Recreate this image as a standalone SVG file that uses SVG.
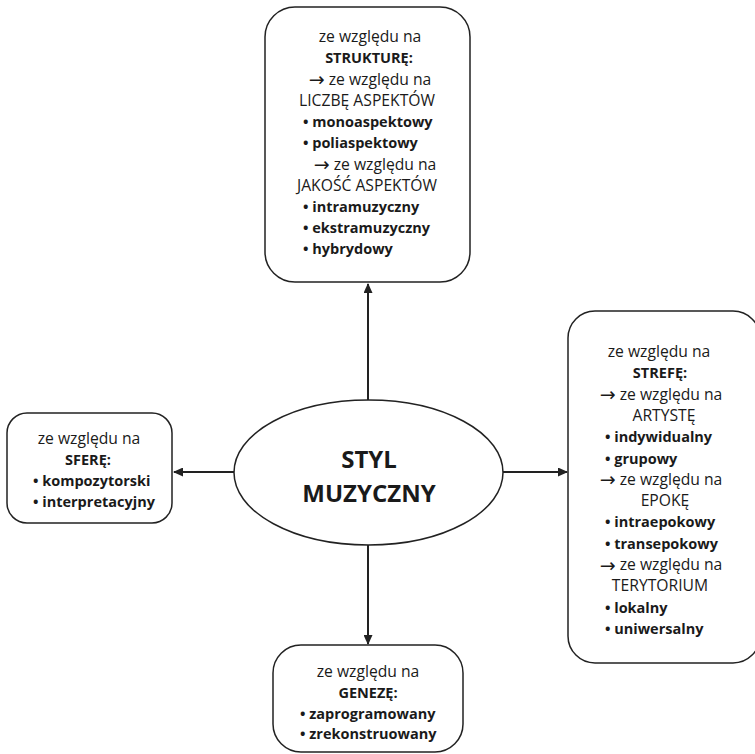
<svg xmlns="http://www.w3.org/2000/svg" width="755" height="754" viewBox="0 0 755 754">
<style>
.box{fill:#fff;stroke:#222;stroke-width:1.5}
.ln{stroke:#222;stroke-width:2;fill:none}
text{font-family:"Open Sans","Noto Sans","Liberation Sans",sans-serif;font-size:15.7px;fill:#1a1a1a}
.c{text-anchor:middle}
.b{font-weight:bold;font-size:14.5px}
.ar{font-family:"DejaVu Sans",sans-serif;font-size:19px}
.t{font-size:24px;font-weight:bold;text-anchor:middle}
</style>
<defs>
<marker id="ah" markerWidth="10" markerHeight="9" refX="9" refY="4.5" orient="auto" markerUnits="userSpaceOnUse">
<path d="M0,0 L10,4.5 L0,9 Z" fill="#222"/>
</marker>
</defs>
<rect width="755" height="754" fill="#fff"/>
<g id="connectors">
<line class="ln" x1="368" y1="400" x2="368" y2="284" marker-end="url(#ah)"/>
<line class="ln" x1="235" y1="472" x2="174" y2="472" marker-end="url(#ah)"/>
<line class="ln" x1="503" y1="472" x2="567" y2="472" marker-end="url(#ah)"/>
<line class="ln" x1="368" y1="545" x2="368" y2="644" marker-end="url(#ah)"/>
</g>
<g id="center">
<ellipse class="box" cx="368.5" cy="472.5" rx="134.5" ry="72.5"/>
<text class="t" x="369" y="468">STYL</text>
<text class="t" x="369" y="502">MUZYCZNY</text>
</g>
<g id="top">
<rect class="box" x="265" y="7" width="205" height="275" rx="30" ry="30"/>
<text class="c" x="370" y="42">ze względu na</text>
<text class="c b" x="369" y="63">STRUKTURĘ:</text>
<text class="c" x="370" y="84.5"><tspan class="ar" dy="1.5">→</tspan><tspan dy="-1.5"> ze względu na</tspan></text>
<text class="c" x="367" y="105.5">LICZBĘ ASPEKTÓW</text>
<text class="b" x="303" y="127">• monoaspektowy</text>
<text class="b" x="303" y="148">• poliaspektowy</text>
<text class="c" x="375" y="169.5"><tspan class="ar" dy="1.5">→</tspan><tspan dy="-1.5"> ze względu na</tspan></text>
<text class="c" x="367" y="190.5">JAKOŚĆ ASPEKTÓW</text>
<text class="b" x="303" y="212">• intramuzyczny</text>
<text class="b" x="303" y="233">• ekstramuzyczny</text>
<text class="b" x="303" y="254">• hybrydowy</text>
</g>
<g id="right">
<rect class="box" x="568" y="311" width="192" height="352" rx="27" ry="27"/>
<text class="c" x="659" y="357">ze względu na</text>
<text class="c b" x="660" y="378.3">STREFĘ:</text>
<text class="c" x="661" y="399.6"><tspan class="ar" dy="1.5">→</tspan><tspan dy="-1.5"> ze względu na</tspan></text>
<text class="c" x="664" y="420.9">ARTYSTĘ</text>
<text class="b" x="605" y="442.2">• indywidualny</text>
<text class="b" x="605" y="463.5">• grupowy</text>
<text class="c" x="661" y="484.8"><tspan class="ar" dy="1.5">→</tspan><tspan dy="-1.5"> ze względu na</tspan></text>
<text class="c" x="665" y="506.1">EPOKĘ</text>
<text class="b" x="605" y="527.4">• intraepokowy</text>
<text class="b" x="605" y="548.7">• transepokowy</text>
<text class="c" x="661" y="570"><tspan class="ar" dy="1.5">→</tspan><tspan dy="-1.5"> ze względu na</tspan></text>
<text class="c" x="660" y="591.3">TERYTORIUM</text>
<text class="b" x="605" y="612.6">• lokalny</text>
<text class="b" x="605" y="633.9">• uniwersalny</text>
</g>
<g id="left">
<rect class="box" x="7" y="413" width="165" height="110" rx="20" ry="20"/>
<text class="c" x="89" y="444">ze względu na</text>
<text class="c b" x="88" y="465">SFERĘ:</text>
<text class="b" x="33" y="486">• kompozytorski</text>
<text class="b" x="33" y="507">• interpretacyjny</text>
</g>
<g id="bottom">
<rect class="box" x="273" y="645" width="190" height="107" rx="28" ry="28"/>
<text class="c" x="368" y="677">ze względu na</text>
<text class="c b" x="368" y="698">GENEZĘ:</text>
<text class="b" x="300" y="718.5">• zaprogramowany</text>
<text class="b" x="300" y="739">• zrekonstruowany</text>
</g>
</svg>
